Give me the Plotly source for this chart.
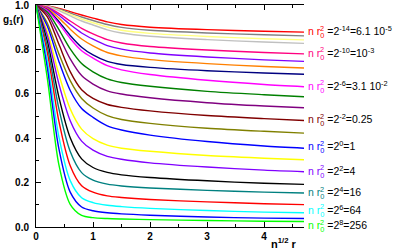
import plotly.graph_objects as go

# x axis: n^(1/2) r
r_scaled = [0, 0.2, 0.4, 0.6, 0.8, 1.0, 1.25, 1.5, 2.0, 3.0, 4.0, 4.7]

# exponent of n r0^2 = 2^e for each curve (top to bottom)
exponents = [-14, -13, -12, -11, -10, -9, -8, -7, -6, -5, -3, -2, -1, 0, 1, 2, 3, 4, 5, 6, 7, 8]

g_m14 = [1, .996, .985, .970, .955, .941, .924, .912, .900, .889, .882, .878]
g_m13 = [1, .995, .982, .964, .946, .930, .912, .899, .886, .874, .866, .861]
g_m12 = [1, .994, .978, .958, .937, .920, .901, .886, .872, .858, .848, .843]
g_m11 = [1, .993, .975, .951, .928, .910, .888, .874, .859, .844, .833, .827]
g_m10 = [1, .990, .962, .928, .895, .870, .844, .829, .813, .797, .786, .780]
g_m9 = [1, .987, .954, .912, .874, .846, .817, .801, .784, .766, .753, .746]
g_m8 = [1, .984, .942, .891, .847, .816, .786, .771, .754, .736, .723, .716]
g_m7 = [1, .979, .926, .863, .810, .775, .746, .732, .719, .704, .694, .688]
g_m6 = [1, .976, .917, .849, .794, .761, .727, .708, .687, .661, .642, .632]
g_m5 = [1, .968, .890, .802, .736, .699, .667, .651, .634, .611, .596, .587]
g_m3 = [1, .959, .861, .757, .682, .644, .613, .599, .582, .560, .545, .537]
g_m2 = [1, .947, .824, .700, .618, .579, .552, .539, .523, .502, .488, .480]
g_m1 = [1, .918, .781, .659, .579, .536, .502, .484, .467, .445, .431, .423]
g_p0 = [1, .904, .747, .615, .534, .494, .456, .437, .414, .385, .365, .355]
g_p1 = [1, .880, .688, .532, .441, .398, .369, .355, .341, .322, .310, .303]
g_p2 = [1, .862, .646, .479, .387, .346, .318, .305, .289, .270, .256, .249]
g_p3 = [1, .836, .586, .402, .307, .268, .246, .235, .223, .208, .197, .192]
g_p4 = [1, .812, .534, .340, .245, .211, .193, .185, .176, .165, .157, .153]
g_p5 = [1, .784, .478, .276, .186, .157, .140, .133, .124, .113, .105, .101]
g_p6 = [1, .747, .408, .209, .132, .110, .098, .092, .084, .074, .067, .064]
g_p7 = [1, .715, .354, .157, .090, .073, .064, .059, .053, .045, .040, .038]
g_p8 = [1, .667, .282, .102, .052, .042, .038, .036, .033, .029, .026, .025]

series = [g_m14, g_m13, g_m12, g_m11, g_m10, g_m9, g_m8, g_m7, g_m6, g_m5, g_m3,
          g_m2, g_m1, g_p0, g_p1, g_p2, g_p3, g_p4, g_p5, g_p6, g_p7, g_p8]

colors = ["#FF0000", "#808080", "#FFFF80", "#C0C0C0", "#FF0080", "#8000FF", "#FF8000",
          "#000080", "#FF00FF", "#008000", "#800080", "#800000", "#808000", "#0000FF",
          "#FFFF00", "#8000FF", "#000000", "#008080", "#FF0000", "#00FFFF", "#0000FF",
          "#00FF00"]

label_exps = [-14, -10, -6, -2, 0, 2, 4, 6, 8]
label_values = ["6.1 10<sup>-5</sup>", "10<sup>-3</sup>", "3.1 10<sup>-2</sup>", "0.25",
                "1", "4", "16", "64", "256"]
label_yshift = [0, 0, 0, 0, 1, 0, 0, 2, -5]

FONT = "Liberation Sans, Arial, sans-serif"
LFS = 10.5   # label font size

fig = go.Figure()
for ys, c in zip(series, colors):
    fig.add_trace(go.Scatter(
        x=r_scaled, y=ys, mode="lines",
        line=dict(color=c, width=1.4, shape="spline", smoothing=0.8),
        showlegend=False, hoverinfo="skip"))

for e, txt, dy in zip(label_exps, label_values, label_yshift):
    i = exponents.index(e)
    c = colors[i]
    fig.add_annotation(
        x=r_scaled[-1], y=series[i][-1], xref="x", yref="y",
        xanchor="left", yanchor="middle", xshift=3, yshift=dy,
        showarrow=False, borderpad=0,
        text=(f"<span style='color:{c}'>n r<sub>0</sub></span>"
              f" =2<sup>{e}</sup>={txt}"),
        font=dict(family=FONT, size=LFS, color="black"))
    # stacked superscript "2" above the subscript "0"
    fig.add_annotation(
        x=r_scaled[-1], y=series[i][-1], xref="x", yref="y",
        xanchor="left", yanchor="middle", xshift=3 + 1.167 * LFS, yshift=dy + 4,
        showarrow=False, borderpad=0, text="2",
        font=dict(family=FONT, size=LFS * 0.7, color=c))

# axis titles
fig.add_annotation(
    x=-0.13, y=0.932, xref="paper", yref="paper", xanchor="left", yanchor="middle",
    showarrow=False, text="g<sub>1</sub>(r)",
    font=dict(family=FONT, size=10, color="black", weight="bold"))
fig.add_annotation(
    x=0.922, y=-0.07, xref="paper", yref="paper", xanchor="center", yanchor="middle",
    showarrow=False, text="n<sup>1/2</sup> r",
    font=dict(family=FONT, size=11, color="black", weight="bold"))

tickfont = dict(family=FONT, size=10, color="black", weight="bold")
fig.update_xaxes(
    range=[0, 4.7], tick0=0, dtick=1, showline=True, linecolor="black", linewidth=1,
    mirror="ticks", ticks="inside", ticklen=5, tickwidth=1, tickcolor="black",
    minor=dict(dtick=0.5, ticks="inside", ticklen=3, tickcolor="black", tickwidth=1),
    showgrid=False, zeroline=False, tickfont=tickfont, automargin=False,
    ticklabeloverflow="allow")
fig.update_yaxes(
    range=[0, 1.0], tick0=0, dtick=0.2, tickformat=".1f", showline=True,
    linecolor="black", linewidth=1, mirror=False, ticks="inside", ticklen=5,
    tickwidth=1, tickcolor="black",
    minor=dict(dtick=0.1, ticks="inside", ticklen=3, tickcolor="black", tickwidth=1),
    showgrid=False, zeroline=False, tickfont=tickfont, ticklabelstandoff=4,
    automargin=False, ticklabeloverflow="allow")

fig.update_layout(
    width=394, height=249, margin=dict(l=36, r=90, t=5, b=22),
    plot_bgcolor="white", paper_bgcolor="white")

fig.write_html("out.html", config={"displayModeBar": False},
               post_script="document.body.style.margin='0';")
